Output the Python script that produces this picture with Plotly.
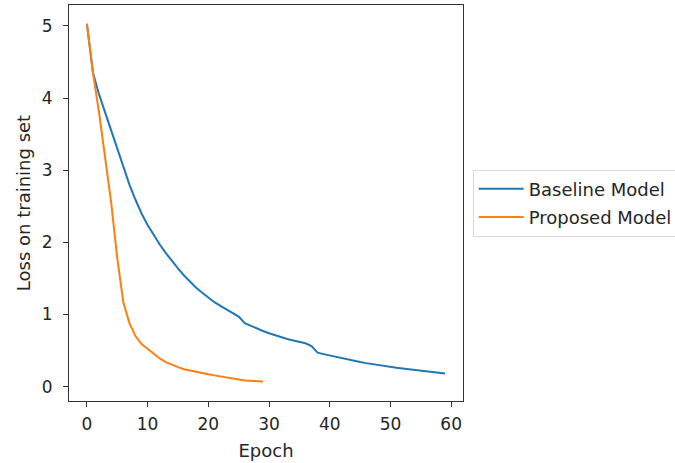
import plotly.graph_objects as go

baseline_epochs = list(range(60))
baseline_loss = [5.03, 4.35, 4.05, 3.80, 3.55, 3.30, 3.05, 2.80, 2.59, 2.40,
                 2.24, 2.10, 1.97, 1.85, 1.74, 1.64, 1.54, 1.45, 1.37, 1.30,
                 1.23, 1.17, 1.12, 1.07, 1.03, 0.97, 0.88, 0.84, 0.80, 0.77,
                 0.74, 0.71, 0.69, 0.66, 0.64, 0.62, 0.60, 0.56, 0.47, 0.45,
                 0.43, 0.41, 0.39, 0.37, 0.355, 0.34, 0.325, 0.31, 0.30, 0.285,
                 0.27, 0.26, 0.25, 0.24, 0.23, 0.22, 0.21, 0.20, 0.19, 0.18]

proposed_epochs = list(range(30))
proposed_loss = [5.03, 4.35, 3.80, 3.20, 2.55, 1.78, 1.17, 0.88, 0.70, 0.59,
                 0.52, 0.45, 0.39, 0.34, 0.30, 0.27, 0.24, 0.22, 0.20, 0.19,
                 0.17, 0.155, 0.14, 0.12, 0.105, 0.09, 0.085, 0.08, 0.075, 0.07]

x_ticks = [0, 10, 20, 30, 40, 50, 60]
y_ticks = [0, 1, 2, 3, 4, 5]

TXT = "#262626"
FONT = "DejaVu Sans"

fig = go.Figure()
fig.add_trace(go.Scatter(x=baseline_epochs, y=baseline_loss, mode="lines",
                         name="Baseline Model", legendgroup="a",
                         line=dict(color="#1f77b4", width=2)))
fig.add_trace(go.Scatter(x=proposed_epochs, y=proposed_loss, mode="lines",
                         name="Proposed Model", legendgroup="b",
                         line=dict(color="#ff7f0e", width=2)))

axis_common = dict(showline=True, mirror=True, linecolor="#333333", linewidth=1,
                   ticks="outside", ticklen=5, tickwidth=1, tickcolor="#333333",
                   showgrid=False, zeroline=False,
                   tickfont=dict(family=FONT, size=17, color=TXT))

fig.update_xaxes(range=[-2.95, 61.95], tickvals=x_ticks, ticklabelstandoff=3,
                 title=dict(text="Epoch", standoff=10,
                            font=dict(family=FONT, size=18, color=TXT)),
                 **axis_common)
fig.update_yaxes(range=[-0.2, 5.29], tickvals=y_ticks, ticklabelstandoff=7,
                 title=dict(text="Loss on training set", standoff=6,
                            font=dict(family=FONT, size=18, color=TXT)),
                 **axis_common)

fig.update_layout(
    width=675, height=463,
    margin=dict(l=69, r=212, t=5, b=62, autoexpand=False),
    plot_bgcolor="white", paper_bgcolor="white",
    font=dict(family=FONT, size=17, color=TXT),
    legend=dict(x=1.0246, y=0.5, xanchor="left", yanchor="middle",
                bordercolor="#d9d9d9", borderwidth=1, tracegroupgap=2,
                itemwidth=45,
                font=dict(family=FONT, size=18, color=TXT)),
)

fig.write_html("out.html", config={"displayModeBar": False},
               post_script="document.body.style.margin='0';document.body.style.overflow='hidden';")
